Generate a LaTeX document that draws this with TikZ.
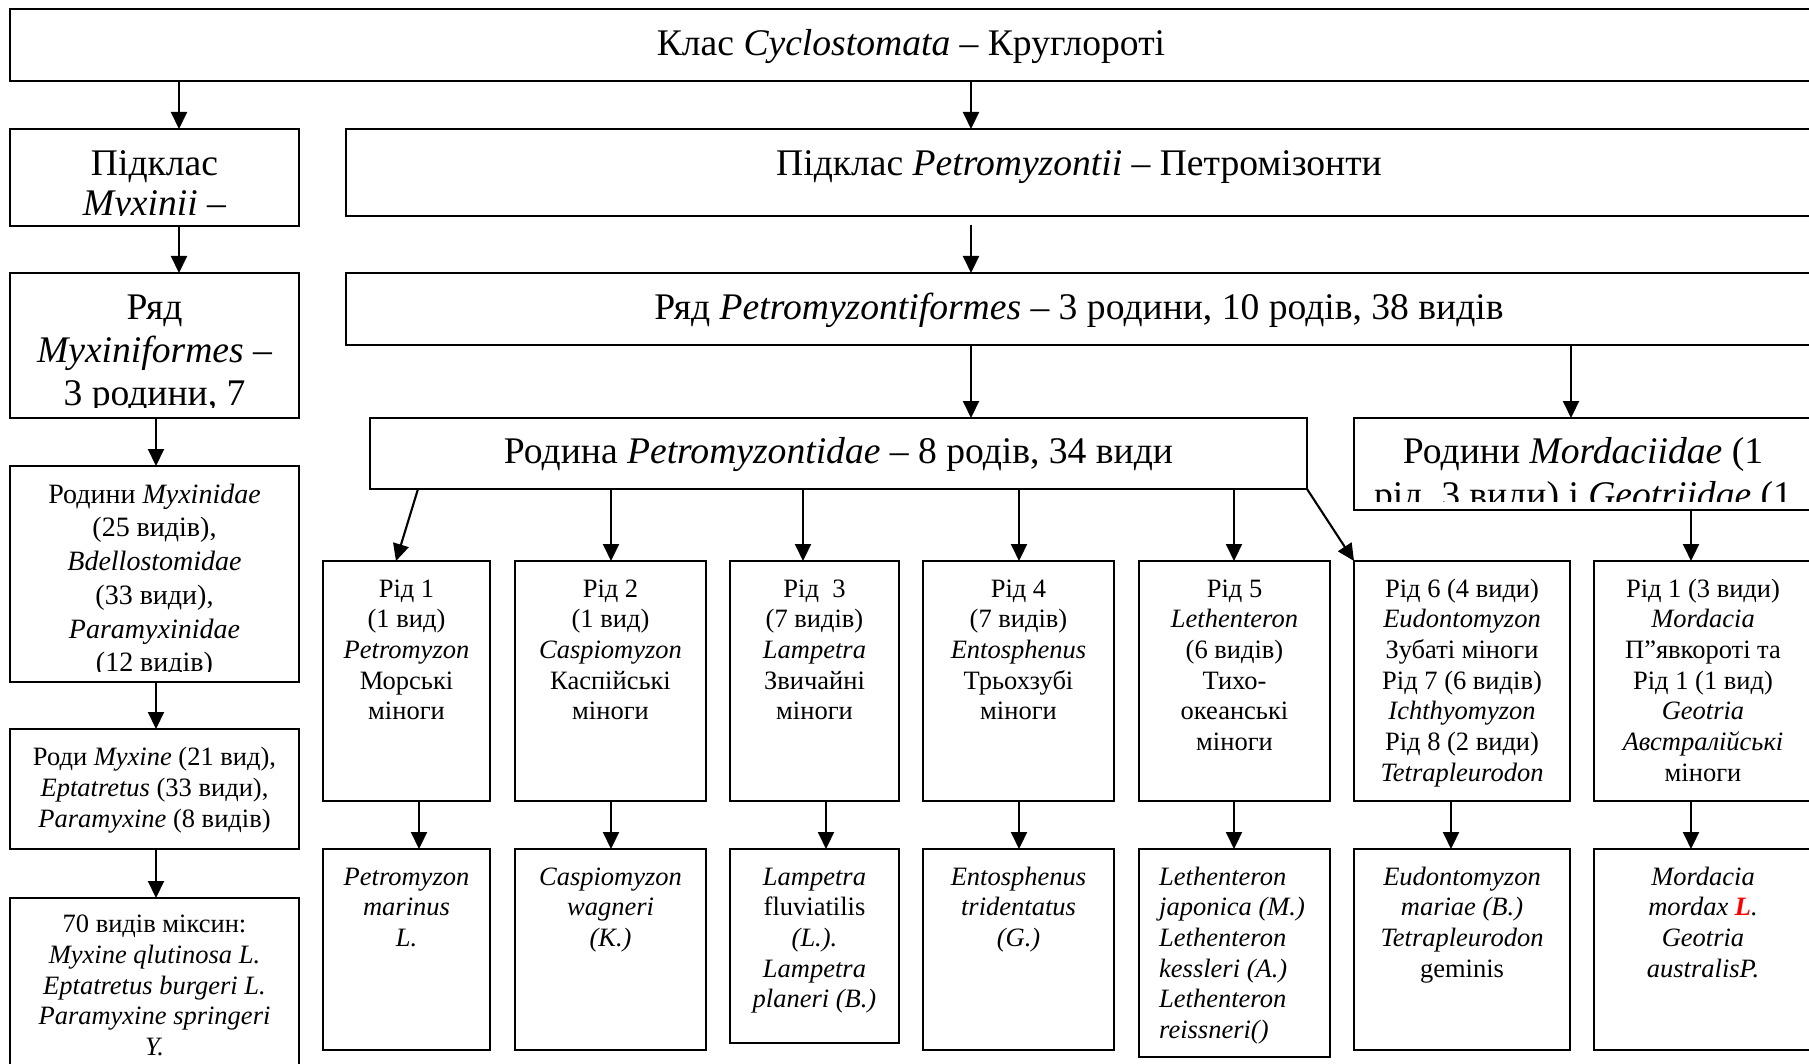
\documentclass[tikz,border=0pt]{standalone}
\usepackage{fontspec}
\setmainfont{Liberation Serif}
\usetikzlibrary{arrows.meta}
\newcommand{\FBig}{\fontsize{37.6}{44}\selectfont}
\newcommand{\FBigA}{\fontsize{37.6}{39.5}\selectfont}
\newcommand{\FBigB}{\fontsize{37.6}{43}\selectfont}
\newcommand{\FMed}{\fontsize{28}{33.7}\selectfont}
\newcommand{\FSm}{\fontsize{26.5}{30.7}\selectfont}
\newcommand{\mkbox}[5]{\node[boxst, minimum width={#4-#2}, minimum height={#5-#3}] (#1) at (#2,#3) {};}
\begin{document}
\begin{tikzpicture}[x=1pt,y=-1pt,
  boxst/.style={draw, line width=2.1pt, anchor=north west, inner sep=0pt, outer sep=0pt},
  arr/.style={line width=2.1pt, -{Triangle[width=16pt,length=17pt]}},
  bigt/.style={font=\FBig, align=center, inner sep=0pt, anchor=north},
  medt/.style={font=\FMed, align=center, inner sep=0pt, anchor=north},
  smt/.style={font=\FSm, align=center, inner sep=0pt, anchor=north},
  smit/.style={font=\FSm\itshape, align=center, inner sep=0pt, anchor=north}]
\useasboundingbox (0,0) rectangle (1809,1064);
\fill[white] (0,0) rectangle (1809,1064);
\clip (0,0) rectangle (1809,1064);

% boxes
\mkbox{top}{10}{9}{1812}{81}
\mkbox{myx}{10}{129}{299}{226}
\mkbox{petro}{346}{129}{1812}{216}
\mkbox{ryadmyx}{10}{273}{299}{418}
\mkbox{ryadpetro}{346}{273}{1812}{345}
\mkbox{rodyna}{370}{418}{1307}{489}
\mkbox{mord}{1354}{418}{1812}{510}
\mkbox{rodyny}{10}{466}{299}{682}
\mkbox{rody}{10}{729}{299}{849}
\mkbox{spm}{10}{898}{299}{1072}
\mkbox{g1}{323}{561}{490}{801}
\mkbox{g2}{515}{561}{706}{801}
\mkbox{g3}{730}{561}{899}{801}
\mkbox{g4}{923}{561}{1114}{801}
\mkbox{g5}{1139}{561}{1330}{801}
\mkbox{g6}{1354}{561}{1570}{801}
\mkbox{g7}{1594}{561}{1812}{801}
\mkbox{s1}{323}{849}{490}{1050}
\mkbox{s2}{515}{849}{706}{1050}
\mkbox{s3}{730}{849}{899}{1043}
\mkbox{s4}{923}{849}{1114}{1050}
\mkbox{s5}{1139}{849}{1330}{1057}
\mkbox{s6}{1354}{849}{1570}{1050}
\mkbox{s7}{1594}{849}{1812}{1050}

% texts
\node[bigt] (top-t) at ([yshift=-16pt]top.north) {\strut Клас \textit{Cyclostomata} – Круглороті};
\begin{scope}
\clip ([yshift=10pt]myx.south west) rectangle (myx.north east);
\node[bigt, font=\FBigA] (myx-t) at ([yshift=-19pt]myx.north) {\strut Підклас\\\textit{Myxinii} –};
\end{scope}
\node[bigt] (petro-t) at ([yshift=-16pt]petro.north) {\strut Підклас \textit{Petromyzontii} – Петромізонти};
\begin{scope}
\clip ([yshift=11pt]ryadmyx.south west) rectangle (ryadmyx.north east);
\node[bigt, font=\FBigB] (ryadmyx-t) at ([yshift=-16pt]ryadmyx.north) {\strut Ряд\\\textit{Myxiniformes} –\\3 родини, 7};
\end{scope}
\node[bigt] (ryadpetro-t) at ([yshift=-16pt]ryadpetro.north) {\strut Ряд \textit{Petromyzontiformes} – 3 родини, 10 родів, 38 видів};
\node[bigt] (rodyna-t) at ([yshift=-14pt]rodyna.north) {\strut Родина \textit{Petromyzontidae} – 8 родів, 34 види};
\begin{scope}
\clip ([yshift=9pt]mord.south west) rectangle (mord.north east);
\node[bigt] (mord-t) at ([yshift=-14pt]mord.north) {\strut Родини \textit{Mordaciidae} (1\\рід, 3 види) і \textit{Geotriidae} (1};
\end{scope}
\begin{scope}
\clip ([yshift=11pt]rodyny.south west) rectangle (rodyny.north east);
\node[medt] (rodyny-t) at ([yshift=-13.5pt]rodyny.north) {\strut Родини \textit{Myxinidae}\\(25 видів),\\\textit{Bdellostomidae}\\(33 види),\\\textit{Paramyxinidae}\\(12 видів)};
\end{scope}
\node[smt] (rody-t) at ([yshift=-15pt]rody.north) {\strut Роди \textit{Myxine} (21 вид),\\\textit{Eptatretus} (33 види),\\\textit{Paramyxine} (8 видів)};
\node[smt] (spm-t) at ([yshift=-13pt]spm.north) {\strut 70 видів міксин:\\\textit{Myxine qlutinosa L.}\\\textit{Eptatretus burgeri L.}\\\textit{Paramyxine springeri}\\\textit{Y.}};

\node[smt] (g1-t) at ([yshift=-14.5pt]g1.north) {\strut Рід 1\\(1 вид)\\\textit{Petromyzon}\\Морські\\міноги};
\node[smt] (g2-t) at ([yshift=-14.5pt]g2.north) {\strut Рід 2\\(1 вид)\\\textit{Caspiomyzon}\\Каспійські\\міноги};
\node[smt] (g3-t) at ([yshift=-14.5pt]g3.north) {\strut Рід \ 3\\(7 видів)\\\textit{Lampetra}\\Звичайні\\міноги};
\node[smt] (g4-t) at ([yshift=-14.5pt]g4.north) {\strut Рід 4\\(7 видів)\\\textit{Entosphenus}\\Трьохзубі\\міноги};
\node[smt] (g5-t) at ([yshift=-14.5pt]g5.north) {\strut Рід 5\\\textit{Lethenteron}\\(6 видів)\\Тихо-\\океанські\\міноги};
\node[smt] (g6-t) at ([yshift=-14.5pt]g6.north) {\strut Рід 6 (4 види)\\\textit{Eudontomyzon}\\Зубаті міноги\\Рід 7 (6 видів)\\\textit{Ichthyomyzon}\\Рід 8 (2 види)\\\textit{Tetrapleurodon}};
\node[smt] (g7-t) at ([yshift=-14.5pt]g7.north) {\strut Рід 1 (3 види)\\\textit{Mordacia}\\П”явкороті та\\Рід 1 (1 вид)\\\textit{Geotria}\\\textit{Австралійські}\\міноги};

\node[smit] (s1-t) at ([yshift=-14.5pt]s1.north) {\strut Petromyzon\\marinus\\L.};
\node[smit] (s2-t) at ([yshift=-14.5pt]s2.north) {\strut Caspiomyzon\\wagneri\\(K.)};
\node[smt] (s3-t) at ([yshift=-14.5pt]s3.north) {\strut \textit{Lampetra}\\fluviatilis\\\textit{(L.).}\\\textit{Lampetra}\\\textit{planeri (B.)}};
\node[smit] (s4-t) at ([yshift=-14.5pt]s4.north) {\strut Entosphenus\\tridentatus\\(G.)};
\node[smit, align=left, anchor=north west] (s5-t) at ([xshift=20pt,yshift=-14.5pt]s5.north west) {\strut Lethenteron\\japonica (M.)\\Lethenteron\\kessleri (A.)\\Lethenteron\\reissneri()};
\node[smt] (s6-t) at ([yshift=-14.5pt]s6.north) {\strut \textit{Eudontomyzon}\\\textit{mariae (B.)}\\\textit{Tetrapleurodon}\\geminis};
\node[smit] (s7-t) at ([yshift=-14.5pt]s7.north) {\strut Mordacia\\mordax {\color{red}\bfseries L}.\\Geotria\\australisP.};

% x positions of connectors
\coordinate (xa) at (179,0);
\coordinate (xb) at (971,0);
\coordinate (xc) at (1571,0);
\coordinate (xd) at (156,0);
\coordinate (xg2) at (611,0);
\coordinate (xg3) at (803,0);
\coordinate (xg4) at (1019,0);
\coordinate (xg5) at (1234,0);
\coordinate (xg7) at (1691,0);
\coordinate (xs1) at (419,0);
\coordinate (xs3) at (826,0);
\coordinate (xs6) at (1451,0);
\coordinate (pb) at ([yshift=-9pt]petro.south);

% connectors
\draw[arr] (top.south -| xa) -- (myx.north -| xa);
\draw[arr] (top.south -| xb) -- (petro.north -| xb);
\draw[arr] (myx.south -| xa) -- (ryadmyx.north -| xa);
\draw[arr] (pb -| xb) -- (ryadpetro.north -| xb);
\draw[arr] (ryadpetro.south -| xb) -- (rodyna.north -| xb);
\draw[arr] (ryadpetro.south -| xc) -- (mord.north -| xc);
\draw[arr] (ryadmyx.south -| xd) -- (rodyny.north -| xd);
\draw[arr] (rodyny.south -| xd) -- (rody.north -| xd);
\draw[arr] (rody.south -| xd) -- (spm.north -| xd);

\draw[arr] ([xshift=48pt]rodyna.south west) -- ([xshift=73pt]g1.north west);
\draw[arr] (rodyna.south -| xg2) -- (g2.north -| xg2);
\draw[arr] (rodyna.south -| xg3) -- (g3.north -| xg3);
\draw[arr] (rodyna.south -| xg4) -- (g4.north -| xg4);
\draw[arr] (rodyna.south -| xg5) -- (g5.north -| xg5);
\draw[arr] (rodyna.south east) -- (g6.north west);
\draw[arr] (mord.south -| xg7) -- (g7.north -| xg7);

\draw[arr] (g1.south -| xs1) -- (s1.north -| xs1);
\draw[arr] (g2.south -| xg2) -- (s2.north -| xg2);
\draw[arr] (g3.south -| xs3) -- (s3.north -| xs3);
\draw[arr] (g4.south -| xg4) -- (s4.north -| xg4);
\draw[arr] (g5.south -| xg5) -- (s5.north -| xg5);
\draw[arr] (g6.south -| xs6) -- (s6.north -| xs6);
\draw[arr] (g7.south -| xg7) -- (s7.north -| xg7);
\end{tikzpicture}
\end{document}
